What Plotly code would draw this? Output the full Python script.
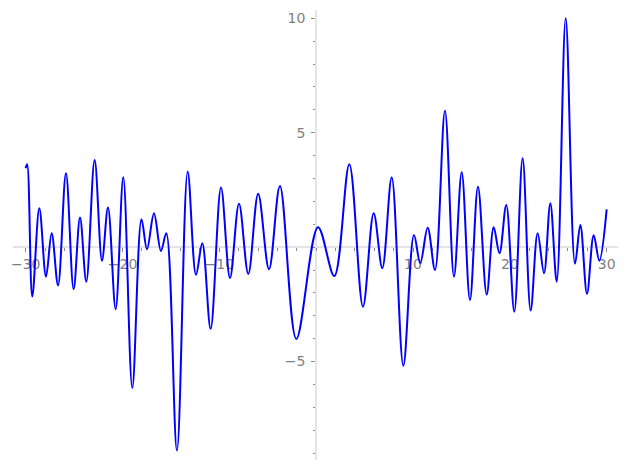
import plotly.graph_objects as go

# Extrema of the curve
x_vals = [-30.0, -29.85, -29.32, -28.59, -27.90, -27.32, -26.66, -25.84, -25.05, -24.39,
          -23.74, -22.88, -22.12, -21.50, -20.71, -19.92, -18.99, -18.04, -17.47, -16.75,
          -16.03, -15.48, -14.38, -13.27, -12.41, -11.76, -10.90, -9.83, -8.90, -7.97,
          -7.01, -5.99, -4.87, -3.74, -2.05, 0.19, 1.87, 3.42, 4.83, 5.94,
          6.83, 7.80, 9.00, 10.10, 10.75, 11.51, 12.27, 13.30, 14.23, 15.03,
          15.88, 16.71, 17.61, 18.33, 18.93, 19.63, 20.46, 21.32, 22.15, 22.87,
          23.53, 24.18, 24.84, 25.77, 26.73, 27.28, 27.97, 28.66, 29.24, 30.0]
y_vals = [3.45, 3.62, -2.16, 1.70, -1.29, 0.61, -1.67, 3.23, -1.84, 1.29,
          -1.51, 3.81, -0.59, 1.73, -2.71, 3.05, -6.15, 1.22, -0.09, 1.48,
          -0.17, 0.61, -8.89, 3.30, -1.21, 0.17, -3.57, 2.60, -1.35, 1.89,
          -1.17, 2.33, -0.97, 2.67, -4.01, 0.87, -1.26, 3.62, -2.60, 1.48,
          -0.92, 3.05, -5.18, 0.53, -0.70, 0.85, -1.00, 5.96, -1.29, 3.27,
          -2.31, 2.64, -2.07, 0.87, -0.27, 1.84, -2.82, 3.88, -2.77, 0.61,
          -1.14, 1.92, -1.51, 10.0, -0.73, 0.97, -2.04, 0.52, -0.59, 1.65]

x_ticks = [-30, -20, -10, 10, 20, 30]
x_labels = ["\u221230", "\u221220", "\u221210", "10", "20", "30"]
y_ticks = [-5, 5, 10]
y_labels = ["\u22125", "5", "10"]

x_range = [-31.31, 31.17]
y_range = [-9.30, 10.36]

fig = go.Figure()
fig.add_trace(go.Scatter(
    x=x_vals, y=y_vals, mode="lines",
    line=dict(color="#0000ff", width=2, shape="spline", smoothing=1.0),
    hoverinfo="skip", showlegend=False,
))

axis_line = "#e4e4e4"
tick_col = "#8a8a8a"
font = dict(family="DejaVu Sans", size=14, color="#7f7f7f")

fig.update_layout(
    width=627, height=470,
    margin=dict(l=13, r=9, t=10, b=10, autoexpand=False),
    paper_bgcolor="white", plot_bgcolor="white",
    showlegend=False,
    xaxis=dict(
        range=x_range, anchor="free", automargin=False,
        position=(0 - y_range[0]) / (y_range[1] - y_range[0]),
        showgrid=False, zeroline=False,
        showline=True, linecolor=axis_line, linewidth=2,
        tickmode="array", tickvals=x_ticks, ticktext=x_labels,
        ticks="outside", ticklen=4, tickwidth=1, tickcolor=tick_col,
        tickfont=font, layer="below traces",
        minor=dict(tickmode="linear", tick0=0, dtick=2, ticks="outside",
                   ticklen=2.5, tickwidth=1, tickcolor=tick_col, showgrid=False),
    ),
    yaxis=dict(
        range=y_range, anchor="free", automargin=False,
        position=(0 - x_range[0]) / (x_range[1] - x_range[0]),
        showgrid=False, zeroline=False,
        showline=True, linecolor=axis_line, linewidth=2,
        tickmode="array", tickvals=y_ticks, ticktext=y_labels,
        ticks="outside", ticklen=4, tickwidth=1, tickcolor=tick_col,
        tickfont=font, layer="below traces", ticklabelstandoff=3,
        minor=dict(tickmode="linear", tick0=0, dtick=1, ticks="outside",
                   ticklen=2.5, tickwidth=1, tickcolor=tick_col, showgrid=False),
    ),
)

fig.write_html(
    "out.html",
    config={"displayModeBar": False, "staticPlot": True},
    post_script="document.body.style.margin='0';document.body.style.overflow='hidden';",
)
